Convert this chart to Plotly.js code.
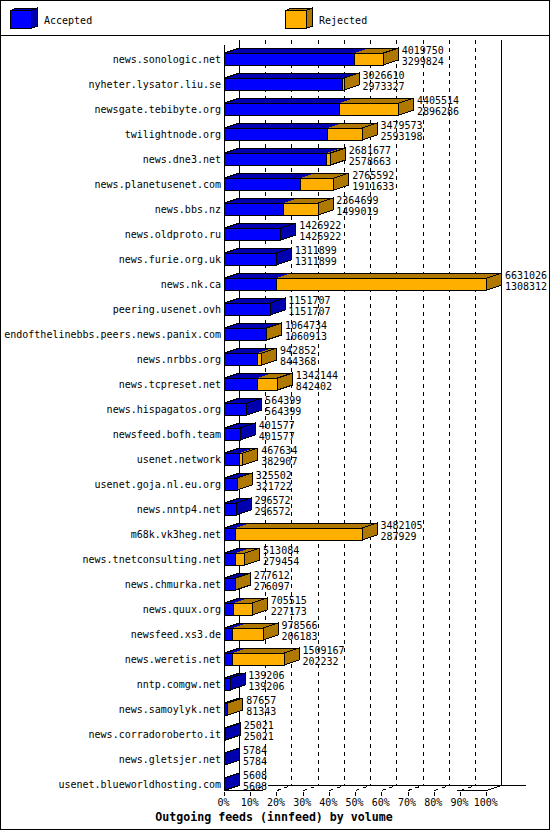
<!DOCTYPE html>
<html><head><meta charset="utf-8">
<script src="https://cdn.plot.ly/plotly-3.0.1.min.js"></script>
<style>html,body{margin:0;padding:0;background:#fff}#chart{width:550px;height:830px}
#chart svg path{shape-rendering:crispEdges}</style>
</head><body><div id="chart"></div>
<script>
const hosts = ["news.sonologic.net","nyheter.lysator.liu.se","newsgate.tebibyte.org","twilightnode.org","news.dne3.net","news.planetusenet.com","news.bbs.nz","news.oldproto.ru","news.furie.org.uk","news.nk.ca","peering.usenet.ovh","endofthelinebbs.peers.news.panix.com","news.nrbbs.org","news.tcpreset.net","news.hispagatos.org","newsfeed.bofh.team","usenet.network","usenet.goja.nl.eu.org","news.nntp4.net","m68k.vk3heg.net","news.tnetconsulting.net","news.chmurka.net","news.quux.org","newsfeed.xs3.de","news.weretis.net","nntp.comgw.net","news.samoylyk.net","news.corradoroberto.it","news.gletsjer.net","usenet.blueworldhosting.com"];
const offered = [4019750,3026610,4405514,3479573,2681677,2765592,2364699,1426922,1311899,6631026,1151707,1064734,942852,1342144,564399,401577,467634,325502,296572,3482105,513084,277612,705515,978566,1509167,139206,87657,25021,5784,5608];
const accepted = [3299824,2973327,2896286,2593198,2578663,1911633,1499019,1426922,1311899,1308312,1151707,1060913,844368,842402,564399,401577,382907,321722,296572,287929,279454,276097,227173,206183,202232,139206,81343,25021,5784,5608];
const pctTicks = [0,10,20,30,40,50,60,70,80,90,100];
const pctLabels = pctTicks.map(p => p + "%");

const MAX = Math.max(...offered);
const PX_PCT = 2.622, X0 = 224.5, ROW0 = 59, ROWH = 25;
const DXP = 15, DYP = 5, HALF = 6;
const L = 224, R = 527, T = 36, B = 791;
const xOf = px => (px - X0) / PX_PCT;
const yOf = py => (py - ROW0) / ROWH;
const xp = px => (px - L) / (R - L);
const yp = py => (B - py) / (B - T);
const dx = DXP / PX_PCT, dy = DYP / ROWH, h = HALF / ROWH;

const BLUE = "#0000ff", BLUE_D = "#0000af", OR = "#ffaf00", OR_D = "#af7800";
const FONT = "'DejaVu Sans Mono', monospace";
const rows = hosts.map((_, i) => i);
const aPct = accepted.map(v => v / MAX * 100);
const oPct = offered.map(v => v / MAX * 100);

function poly(pts, px, py) {
  pts.forEach(p => { px.push(p[0]); py.push(p[1]); });
  px.push(pts[0][0], null); py.push(pts[0][1], null);
}
function topFace(x0, x1, r, px, py) {
  poly([[x0, r - h], [x1, r - h], [x1 + dx, r - h - dy], [x0 + dx, r - h - dy]], px, py);
}
function sideFace(x, r, px, py) {
  poly([[x, r - h], [x + dx, r - h - dy], [x + dx, r + h - dy], [x, r + h]], px, py);
}
const tb = {x: [], y: []}, to = {x: [], y: []}, tAll = {x: [], y: []}, sb = {x: [], y: []}, so = {x: [], y: []};
rows.forEach(r => {
  const a = aPct[r], o = oPct[r];
  topFace(0, a, r, tb.x, tb.y);
  topFace(0, o, r, tAll.x, tAll.y);
  if (o > a) { topFace(a, o, r, to.x, to.y); sideFace(o, r, so.x, so.y); }
  else sideFace(o, r, sb.x, sb.y);
});
const face = (d, c) => ({type: "scatter", mode: "lines", x: d.x, y: d.y, fill: "toself", fillcolor: c,
  line: {color: "#000", width: 1}, hoverinfo: "skip", showlegend: false});
const fillOnly = (d, c) => ({type: "scatter", mode: "lines", x: d.x, y: d.y, fill: "toself", fillcolor: c,
  line: {width: 0}, hoverinfo: "skip", showlegend: false});
const outline = d => ({type: "scatter", mode: "lines", x: d.x, y: d.y,
  line: {color: "#000", width: 1}, hoverinfo: "skip", showlegend: false});

const labelX = oPct.map(o => o + dx + 3.3 / PX_PCT);
const textTrace = (vals, off) => ({type: "scatter", mode: "text", x: labelX, y: rows.map(r => r + off),
  text: vals.map(String), textposition: "middle right", textfont: {family: FONT, size: 10, color: "#000"},
  cliponaxis: false, hoverinfo: "skip", showlegend: false});

const traces = [
  {type: "bar", orientation: "h", name: "Accepted", y: rows, x: aPct, base: 0, width: 2 * h,
   marker: {color: BLUE, line: {color: "#000", width: 1}}},
  {type: "bar", orientation: "h", name: "Rejected", y: rows, x: oPct.map((o, i) => o - aPct[i]), base: aPct, width: 2 * h,
   marker: {color: OR, line: {color: "#000", width: 1}}},
  fillOnly(tb, BLUE_D), fillOnly(to, OR_D), outline(tAll), face(sb, BLUE_D), face(so, OR_D),
  textTrace(offered, yOf(51)), textTrace(accepted, yOf(62))
];

const shapes = [];
const K = {color: "#000", width: 1};
const ln = (px0, py0, px1, py1, dash) => shapes.push({type: "line", layer: "below", xref: "x", yref: "y",
  x0: xOf(px0), y0: yOf(py0), x1: xOf(px1), y1: yOf(py1), line: {color: "#000", width: 1, dash: dash || "solid"}});
const BK = X0 + DXP, STEP = PX_PCT * 10;
ln(X0, 45, X0, 791);
ln(BK, 40, BK, 785.5);
ln(BK + 10 * STEP, 40, BK + 10 * STEP, 785.5);
for (let k = 1; k < 10; k++) ln(BK + k * STEP, 40, BK + k * STEP, 785.5, "4px,4px");
ln(BK + 28, 785.5, 526, 785.5);
ln(X0, 790.5, X0 + 38, 790.5);
ln(X0 + 9 * STEP - 3, 790.5, X0 + 10 * STEP, 790.5);
ln(X0 + 10 * STEP, 790.5, BK + 10 * STEP, 785.5);
ln(220, 792, BK, 785.5);
for (let k = 1; k < 10; k++) ln(X0 + k * STEP, 790.5, BK + k * STEP, 785.5, "4px,4px");

const pp = (c, pts) => shapes.push({type: "path", layer: "above", xref: "paper", yref: "paper",
  path: "M" + pts.map(p => xp(p[0]) + "," + yp(p[1])).join("L") + "Z", fillcolor: c, line: K});
function swatch(x0, cF, cD) {
  const x1 = x0 + 20.5, y0 = 10.5, y1 = 28.5, d = 6.5, e = 2.5;
  pp(cD, [[x0, y0], [x1, y0], [x1 + d, y0 - e], [x0 + d, y0 - e]]);
  pp(cD, [[x1, y0], [x1 + d, y0 - e], [x1 + d, y1 - e], [x1, y1]]);
  pp(cF, [[x0, y0], [x1, y0], [x1, y1], [x0, y1]]);
}
swatch(10.5, BLUE, BLUE_D);
swatch(285.5, OR, OR_D);
shapes.push({type: "rect", layer: "above", xref: "paper", yref: "paper", x0: xp(0.5), x1: xp(549.5), y0: yp(0.5), y1: yp(829.5), line: K});
shapes.push({type: "line", layer: "above", xref: "paper", yref: "paper", x0: xp(0.5), x1: xp(549.5), y0: yp(35.5), y1: yp(35.5), line: K});

const legendText = (t, px) => ({text: t, xref: "paper", yref: "paper", x: xp(px), y: yp(20), xanchor: "left", yanchor: "middle",
  showarrow: false, font: {family: FONT, size: 10, color: "#000"}, borderpad: 0});

const layout = {
  width: 550, height: 830, paper_bgcolor: "#fff", plot_bgcolor: "rgba(0,0,0,0)", showlegend: false, barmode: "overlay",
  margin: {l: L, r: 550 - R, t: T, b: 830 - B, pad: 0},
  title: {text: "Outgoing feeds (innfeed) by volume", font: {family: FONT, size: 11.6, weight: 700, color: "#000"},
    x: 274 / 550, xref: "container", xanchor: "center", y: 1 - 817 / 830, yref: "container", yanchor: "middle"},
  xaxis: {range: [xOf(L), xOf(R)], tickmode: "array", tickvals: pctTicks, ticktext: pctLabels, ticks: "outside", ticklen: 4,
    tickcolor: "#000", tickwidth: 1, showgrid: false, zeroline: false, showline: false, ticklabelstandoff: -2, ticklabelshift: -1,
    tickfont: {family: FONT, size: 10, color: "#000"}, fixedrange: true},
  yaxis: {range: [yOf(B), yOf(T)], tickmode: "array", tickvals: rows, ticktext: hosts, ticks: "", showgrid: false, ticklabelstandoff: 2,
    zeroline: false, showline: false, tickfont: {family: FONT, size: 10, color: "#000"}, fixedrange: true},
  shapes: shapes,
  annotations: [legendText("Accepted", 43), legendText("Rejected", 318)]
};
Plotly.newPlot("chart", traces, layout, {displayModeBar: false, staticPlot: true});
</script></body></html>
